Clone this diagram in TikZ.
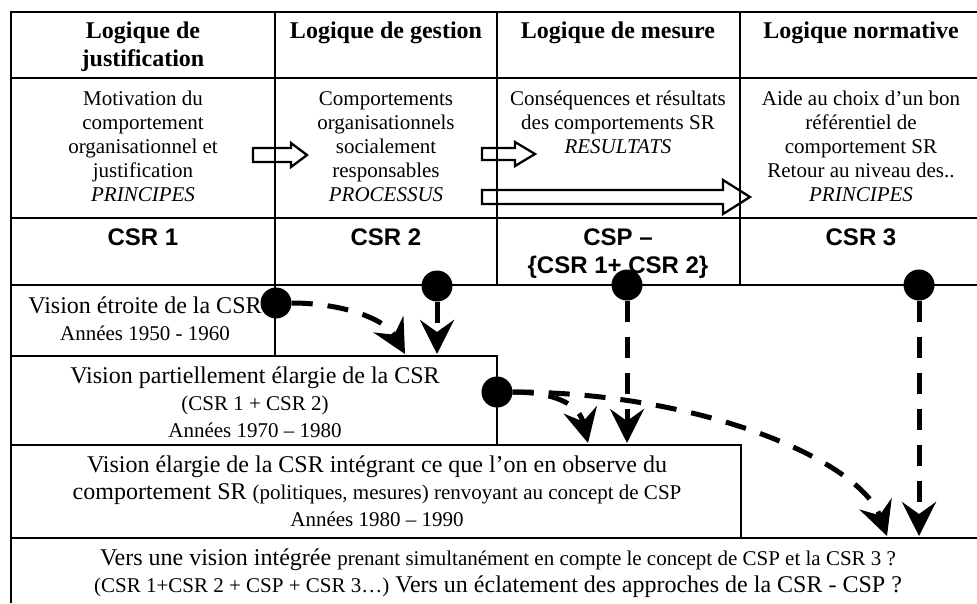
\documentclass[tikz,border=0pt]{standalone}
\usepackage{fontspec}
\setmainfont{Liberation Serif}
\setsansfont{Liberation Sans}
\usetikzlibrary{calc}
\usetikzlibrary{arrows.meta,positioning}
\tikzset{>={Stealth[length=34pt,width=34pt,inset=12pt]}}
\newcommand{\petit}{\fontsize{21}{24}\selectfont}
\tikzset{
	head/.style={anchor=north,align=center,inner sep=0pt,font=\bfseries\fontsize{24}{28}\selectfont},
	cell/.style={anchor=north,align=center,inner sep=0pt,font=\fontsize{21}{24}\selectfont},
	csr/.style={anchor=north,align=center,inner sep=0pt,font=\sffamily\bfseries\fontsize{24}{28}\selectfont},
	era/.style={anchor=north,align=center,inner sep=0pt,font=\fontsize{24}{27}\selectfont},
	blob/.style={circle,fill,inner sep=0pt,minimum size=31pt},
	tabline/.style={line width=2.8pt},
	hollow/.style={line width=2.3pt,line join=miter},
	trail/.style={->,line width=5pt,dash pattern=on 21pt off 15pt},
}

\begin{document}
\begin{tikzpicture}[x=1pt,y=-1pt]
				\fill [white] (0,0) rectangle (977,603);
				\useasboundingbox (0,0) rectangle (977,603);

				% table
				\draw [tabline] (977,12) -- (11,12) -- (11,603);
				\draw [tabline] (11,78) -- (977,78);
				\draw [tabline] (11,218) -- (977,218);
				\draw [tabline] (11,285) -- (977,285);
				\draw [tabline] (275,12) -- (275,356);
				\draw [tabline] (497,12) -- (497,285);
				\draw [tabline] (740,12) -- (740,285);
				\draw [tabline] (11,356) -- (497,356) -- (497,445);
				\draw [tabline] (11,445) -- (741,445) -- (741,538);
				\draw [tabline] (11,538) -- (977,538);

				\draw (143,22) node (h1) [head] {Logique de\\justification};
				\draw (386,22) node (h2) [head] {Logique de gestion};
				\draw (618,22) node (h3) [head] {Logique de mesure};
				\draw (861,22) node (h4) [head] {Logique normative};

				\draw (143,91) node (m1) [cell] {Motivation du\\comportement\\organisationnel et\\justification\\\textit{PRINCIPES}};
				\draw (386,91) node (m2) [cell] {Comportements\\organisationnels\\socialement\\responsables\\\textit{PROCESSUS}};
				\draw (618,91) node (m3) [cell] {Conséquences et résultats\\des comportements SR\\\textit{RESULTATS}};
				\draw (861,91) node (m4) [cell] {Aide au choix d’un bon\\référentiel de\\comportement SR\\Retour au niveau des..\\\textit{PRINCIPES}};

				\draw (143,229) node (c1) [csr] {CSR 1};
				\draw (386,229) node (c2) [csr] {CSR 2};
				\draw (618,229) node (c3) [csr] {CSP –\\\{CSR 1+ CSR 2\}};
				\draw (861,229) node (c4) [csr] {CSR 3};

				% hollow arrows
				\draw [hollow] (253,148) -- (291,148) -- (291,143) -- (307,155) -- (291,167) -- (291,162) -- (253,162) -- cycle;
				\draw [hollow] (482,148) -- (515,148) -- (515,142) -- (535,154) -- (515,166) -- (515,160) -- (482,160) -- cycle;
				\draw [hollow] (482,190) -- (723,190) -- (723,180) -- (750,197) -- (723,214) -- (723,204) -- (482,204) -- cycle;

				\draw (145,297) node (v1) [era] {Vision étroite de la CSR\\{\petit Années 1950 - 1960}};
				\draw (255,367) node (v2) [era] {Vision partiellement élargie de la CSR\\{\petit (CSR 1 + CSR 2)}\\{\petit Années 1970 – 1980}};
				\draw (377,456) node (v3) [era] {Vision élargie de la CSR intégrant ce que l’on en observe du\\comportement SR {\petit (politiques, mesures) renvoyant au concept de CSP}\\{\petit Années 1980 – 1990}};
				\draw (498,549) node (v4) [era] {Vers une vision intégrée {\petit prenant simultanément en compte le concept de CSP et la CSR 3 ?}\\{\petit (CSR 1+CSR 2 + CSP + CSR 3…)} Vers un éclatement des approches de la CSR - CSP ?};

				% dots and dashed arrows
				\draw (276,303) node (d1) [blob] {};
				\draw (437,286) node (d2) [blob] {};
				\draw (627,285) node (d3) [blob] {};
				\draw (919,285) node (d4) [blob] {};
				\draw (497,392) node (d5) [blob] {};

				\coordinate (e1) at (405,354);
				\coordinate (e2) at (437,354);
				\coordinate (e3) at (588,443);
				\coordinate (e4) at (627,443);
				\coordinate (e5) at (887,536);
				\coordinate (e6) at (919,536);

				\draw [trail] (d1.east) .. controls (340,303) and (385,318) .. (e1);
				\draw [trail] (d2.south) -- (e2);
				\draw [trail] (d3.south) -- (e4);
				\draw [trail] (d4.south) -- (e6);
				\draw [trail] (d5.east) .. controls (545,392) and (578,400) .. (e3);
				\draw [trail] (d5.east) .. controls (700,392) and (860,460) .. (e5);
\end{tikzpicture}
\end{document}
